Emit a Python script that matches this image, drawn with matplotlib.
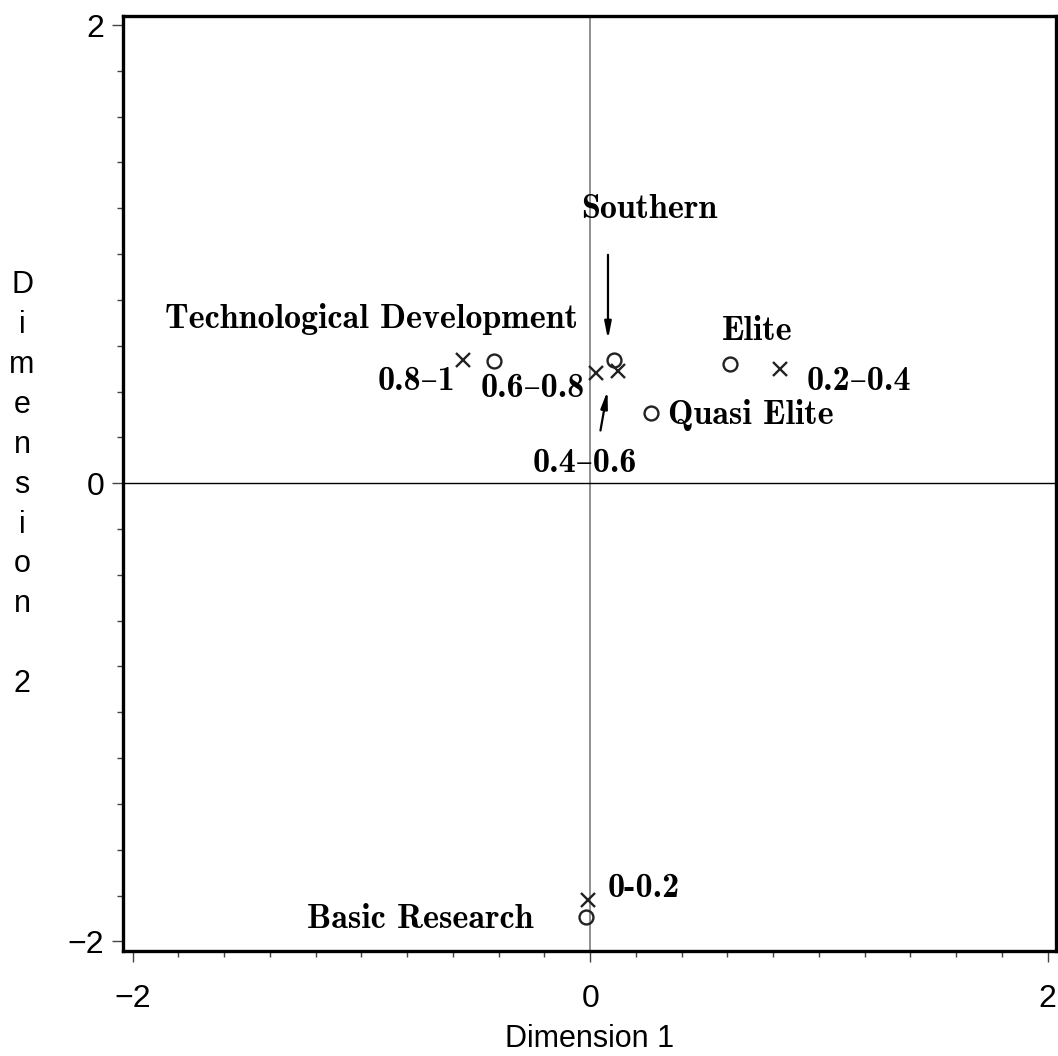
import matplotlib
matplotlib.use("Agg")
import matplotlib.pyplot as plt

# correspondence analysis coordinates (dimension 1, dimension 2)
col_names = ["Technological Development", "Southern", "Quasi Elite", "Elite", "Basic Research"]
col_dim1 = [-0.42, 0.104, 0.265, 0.61, -0.02]
col_dim2 = [0.533, 0.537, 0.306, 0.52, -1.895]

row_names = ["0.8\u20131", "0.6\u20130.8", "0.4\u20130.6", "0.2\u20130.4", "0-0.2"]
row_dim1 = [-0.556, 0.024, 0.12, 0.83, -0.01]
row_dim2 = [0.537, 0.48, 0.49, 0.50, -1.82]

# label anchor points
label_pos = {
    "Technological Development": (-0.053, 0.677, "right"),
    "Southern": (0.257, 1.157, "center"),
    "Quasi Elite": (0.341, 0.258, "left"),
    "Elite": (0.576, 0.624, "left"),
    "Basic Research": (-1.238, -1.943, "left"),
    "0.8\u20131": (-0.591, 0.406, "right"),
    "0.6\u20130.8": (-0.477, 0.376, "left"),
    "0.4\u20130.6": (-0.25, 0.048, "left"),
    "0.2\u20130.4": (0.945, 0.406, "left"),
    "0-0.2": (0.078, -1.808, "left"),
}

sans = ["Liberation Sans", "DejaVu Sans"]
serif = ["cmb10", "DejaVu Serif"]

fig = plt.figure(figsize=(10.58, 10.56), dpi=100)
ax = fig.add_axes([0.1167, 0.0999, 0.998 - 0.1167, 0.985 - 0.0999])

ax.axvline(0, color="#888888", lw=1.3, zorder=1)
ax.axhline(0, color="black", lw=1.0, zorder=1)

ax.plot(col_dim1, col_dim2, linestyle="none", marker="o", markersize=10,
        markerfacecolor="none", markeredgecolor="#222222", markeredgewidth=1.7)
ax.plot(row_dim1, row_dim2, linestyle="none", marker="x", markersize=10.5,
        color="#222222", markeredgewidth=1.7)

for name, (x, y, ha) in label_pos.items():
    ax.text(x, y, name, ha=ha, va="baseline", fontsize=24.5,
            family=serif, color="black")

arrow = dict(arrowstyle="-|>,head_length=1.0,head_width=0.2", color="black", lw=1.6)
ax.annotate("", xy=(0.078, 0.616), xytext=(0.078, 1.009), arrowprops=arrow)
ax.annotate("", xy=(0.078, 0.415), xytext=(0.043, 0.218), arrowprops=arrow)

ax.set_xlim(-2.04, 2.036)
ax.set_ylim(-2.04, 2.04)
ax.set_xticks([-2, 0, 2])
ax.set_yticks([-2, 0, 2])
ax.set_xticks([i / 5 for i in range(-10, 11)], minor=True)
ax.set_yticks([i / 5 for i in range(-10, 11)], minor=True)
ax.set_xticklabels(["\u22122", "0", "2"])
ax.set_yticklabels(["\u22122", "0", "2"])
ax.tick_params(which="major", length=8, width=1, color="#444444", labelsize=23, pad=6)
ax.tick_params(axis="x", which="major", pad=16)
ax.tick_params(which="minor", length=4, width=1, color="#444444")
for lbl in ax.get_xticklabels() + ax.get_yticklabels():
    lbl.set_family(sans)

for sp in ax.spines.values():
    sp.set_linewidth(2.4)

ax.set_xlabel("Dimension 1", fontsize=22, family=sans, labelpad=7)
fig.text(22 / 1058, 0.541, "\n".join("Dimension 2"), ha="center", va="center",
         fontsize=22, family=sans, linespacing=1.43)

fig.savefig("out.png", dpi=100)
